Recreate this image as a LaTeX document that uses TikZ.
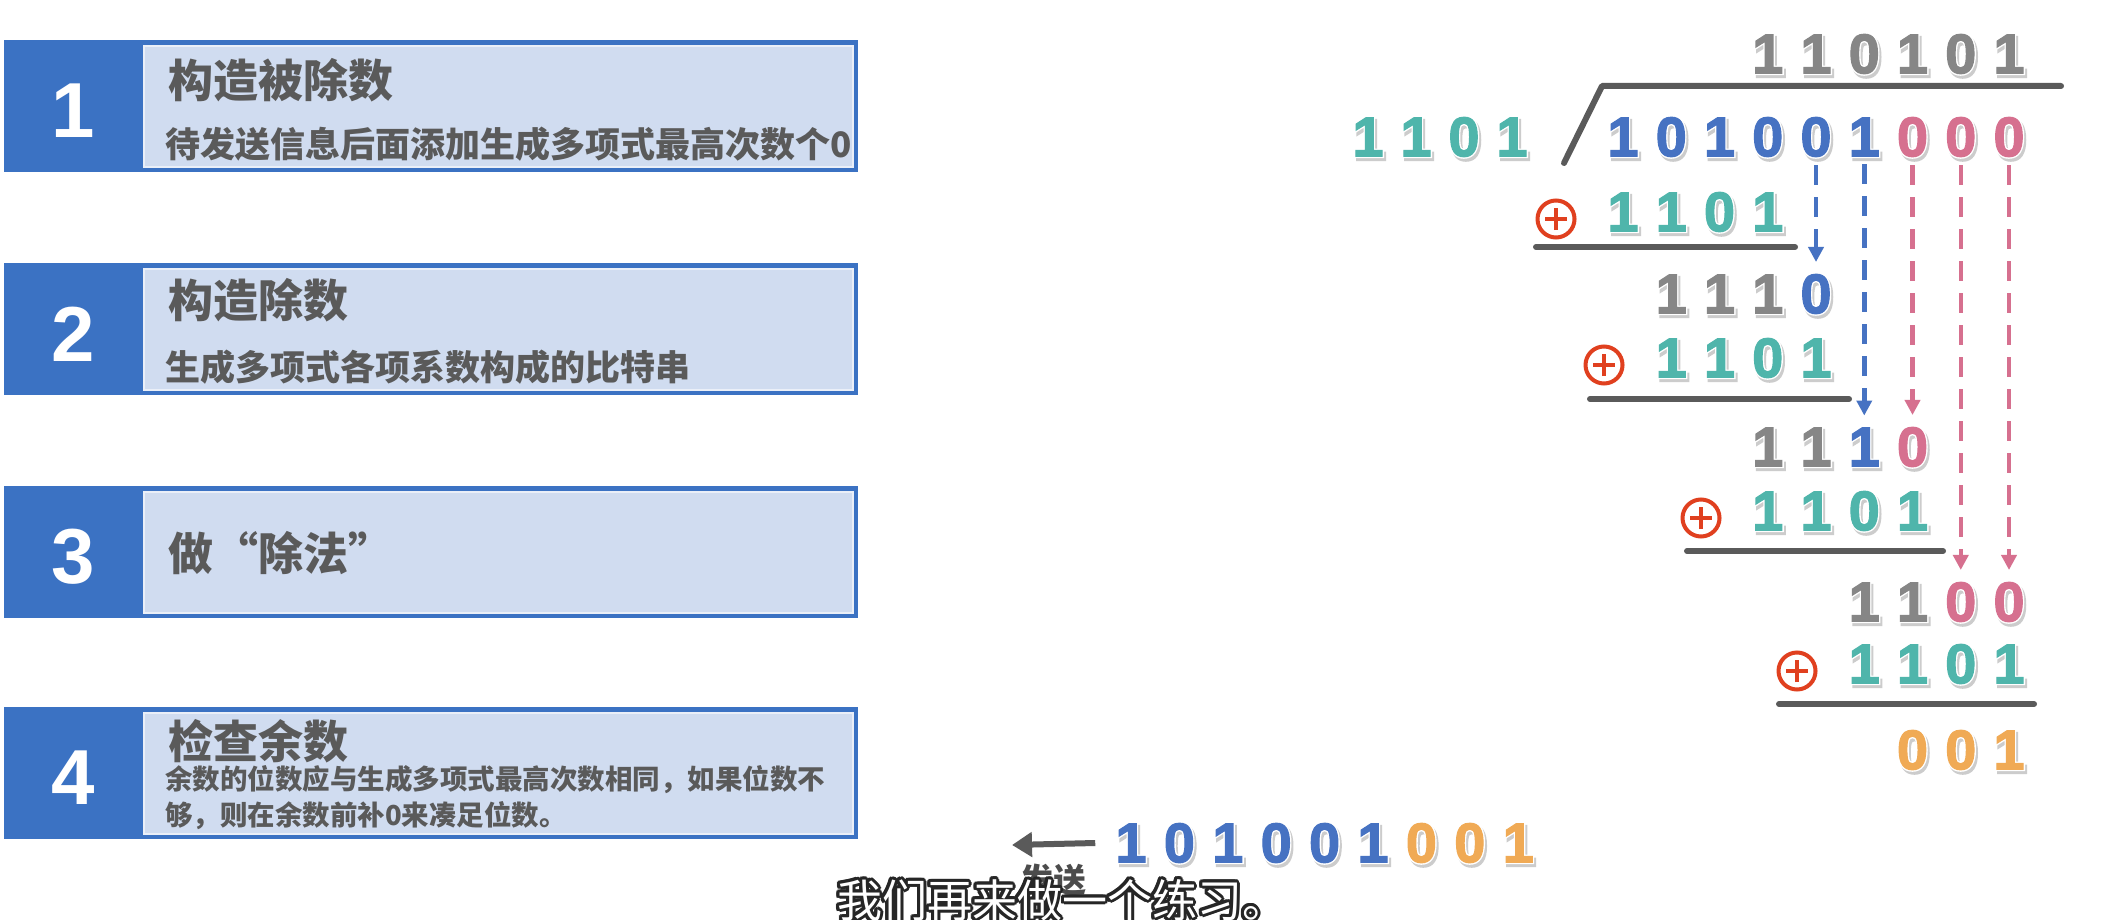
\documentclass[tikz,border=0pt]{standalone}
\usepackage{fontspec}
\usetikzlibrary{arrows.meta}

\newfontfamily\cjkfont{Noto Sans CJK SC}
\newfontfamily\numfont{Liberation Sans Bold}
\newfontfamily\numheavy{Liberation Sans Bold}[FakeBold=2]
\newfontfamily\numrim{Liberation Sans Bold}[FakeBold=7]

\definecolor{stepblue}{HTML}{3B72C3}
\definecolor{panel}{HTML}{D0DCF0}
\definecolor{inktext}{HTML}{5A5A5A}
\definecolor{bitgray}{HTML}{868686}
\definecolor{bitteal}{HTML}{4FB5AB}
\definecolor{bitblue}{HTML}{4672C2}
\definecolor{bitpink}{HTML}{D6708F}
\definecolor{bitorange}{HTML}{F0AA55}
\definecolor{xorred}{HTML}{E0401F}
\definecolor{bargray}{HTML}{5A5A5A}

\tikzset{
  stepnum/.style={inner sep=0pt, text=white, font=\numfont\fontsize{78}{80}\selectfont},
  steptitle/.style={anchor=west, inner sep=0pt, text=inktext, font=\cjkfont\bfseries\fontsize{45}{50}\selectfont},
  stepnote/.style={anchor=west, inner sep=0pt, text=inktext, font=\cjkfont\bfseries\fontsize{35}{40}\selectfont},
  stepsmall/.style={anchor=west, inner sep=0pt, align=left, text=inktext, font=\cjkfont\bfseries\fontsize{27.5}{36}\selectfont},
  bitface/.style={inner sep=0pt, font=\numheavy\fontsize{56}{60}\selectfont},
  bitrim/.style={inner sep=0pt, text=white, font=\numrim\fontsize{56}{60}\selectfont},
  bitshade/.style={inner sep=0pt, text=black!20, font=\numrim\fontsize{56}{60}\selectfont},
  xorsign/.style={circle, draw=xorred, line width=4pt, minimum size=37pt, inner sep=0pt,
    path picture={\draw[xorred, line width=3.6pt]
      ([xshift=-11pt]path picture bounding box.center) -- ([xshift=11pt]path picture bounding box.center)
      ([yshift=-11pt]path picture bounding box.center) -- ([yshift=11pt]path picture bounding box.center);}},
  rule/.style={bargray, line width=6pt, line cap=round, line join=round},
  dropline/.style={line width=4.5pt, dash pattern=on 20pt off 12pt, -{Triangle[length=15pt,width=15pt]}},
  sendarrow/.style={bargray, line width=6pt, -{Triangle[length=20pt,width=24pt]}},
  sendlabel/.style={inner sep=0pt, text=black!70, font=\cjkfont\bfseries\fontsize{33}{36}\selectfont},
  captionrim/.style={inner sep=0pt, text=black!85, font=\cjkfont\fontsize{45}{48}\selectfont},
  captionface/.style={inner sep=0pt, text=white, font=\cjkfont\fontsize{45}{48}\selectfont},
}

% one digit of the long division: shadow, white rim, coloured face
\newcommand\putbit[5]{%
  \node[bitshade] (sh-#1) at (#2+2,#3+3) {#5};
  \node[bitrim] (rim-#1) at (#2,#3) {#5};
  \node[bitface, text=#4] (#1) at (#2,#3) {#5};
}

\begin{document}
\begin{tikzpicture}[x=1pt, y=-1pt]
\useasboundingbox (0,0) rectangle (2116,920);
\fill[white] (0,0) rectangle (2116,920);

% ---- the four steps ----
\foreach \i/\t in {1/40, 2/263, 3/486, 4/707} {
  \fill[stepblue] (4,\t) rectangle (858,\t+132);
  \fill[panel] (144,\t+6) rectangle (853,\t+127);
  \draw[white!55!panel, line width=1.2pt] (144,\t+6) rectangle (853,\t+127);
  \node[stepnum] (num\i) at (73,\t+71) {\i};
}
\node[steptitle] (title1) at (168,80) {构造被除数};
\node[stepnote] (note1) at (165,144) {待发送信息后面添加生成多项式最高次数个0};
\node[steptitle] (title2) at (168,300) {构造除数};
\node[stepnote] (note2) at (165,367) {生成多项式各项系数构成的比特串};
\node[steptitle] (title3) at (168,553) {做“除法”};
\node[steptitle] (title4) at (168,741) {检查余数};
\node[stepsmall] (note4) at (165,798) {余数的位数应与生成多项式最高次数相同，如果位数不\\够，则在余数前补0来凑足位数。};

% ---- long division ----
% quotient
\foreach \k/\b in {3/1,4/1,5/0,6/1,7/0,8/1}
  \putbit{q\k}{1623+48.25*\k}{54}{bitgray}{\b};
% divisor
\foreach \k/\b in {0/1,1/1,2/0,3/1}
  \putbit{v\k}{1368+48*\k}{137}{bitteal}{\b};
% division bracket
\draw[rule] (1564,163) -- (1602,86) -- (2061,86);
% dividend
\foreach \k/\b/\c in {0/1/bitblue,1/0/bitblue,2/1/bitblue,3/0/bitblue,4/0/bitblue,5/1/bitblue,6/0/bitpink,7/0/bitpink,8/0/bitpink}
  \putbit{d\k}{1623+48.25*\k}{137}{\c}{\b};

% step 1
\node[xorsign] (xor1) at (1556,219) {};
\foreach \k/\b in {0/1,1/1,2/0,3/1}
  \putbit{m1c\k}{1623+48.25*\k}{212}{bitteal}{\b};
\draw[rule] (1536,247) -- (1795,247);
\foreach \k/\b/\c in {1/1/bitgray,2/1/bitgray,3/1/bitgray,4/0/bitblue}
  \putbit{p1c\k}{1623+48.25*\k}{294}{\c}{\b};

% step 2
\node[xorsign] (xor2) at (1604,365) {};
\foreach \k/\b in {1/1,2/1,3/0,4/1}
  \putbit{m2c\k}{1623+48.25*\k}{358}{bitteal}{\b};
\draw[rule] (1590,399) -- (1849,399);
\foreach \k/\b/\c in {3/1/bitgray,4/1/bitgray,5/1/bitblue,6/0/bitpink}
  \putbit{p2c\k}{1623+48.25*\k}{447}{\c}{\b};

% step 3
\node[xorsign] (xor3) at (1701,518) {};
\foreach \k/\b in {3/1,4/1,5/0,6/1}
  \putbit{m3c\k}{1623+48.25*\k}{511}{bitteal}{\b};
\draw[rule] (1687,551) -- (1943,551);
\foreach \k/\b/\c in {5/1/bitgray,6/1/bitgray,7/0/bitpink,8/0/bitpink}
  \putbit{p3c\k}{1623+48.25*\k}{602}{\c}{\b};

% step 4
\node[xorsign] (xor4) at (1797,671) {};
\foreach \k/\b in {5/1,6/1,7/0,8/1}
  \putbit{m4c\k}{1623+48.25*\k}{664}{bitteal}{\b};
\draw[rule] (1779,704) -- (2034,704);
\foreach \k/\b in {6/0,7/0,8/1}
  \putbit{rem\k}{1623+48.25*\k}{750}{bitorange}{\b};

% bits brought down
\draw[dropline, bitblue] ([yshift=-8pt]d4.south) -- ([yshift=12pt]p1c4.north);
\draw[dropline, bitblue] ([yshift=-8pt]d5.south) -- ([yshift=12pt]p2c5.north);
\draw[dropline, bitpink] ([yshift=-8pt]d6.south) -- ([yshift=12pt]p2c6.north);
\draw[dropline, bitpink] ([yshift=-8pt]d7.south) -- ([yshift=12pt]p3c7.north);
\draw[dropline, bitpink] ([yshift=-8pt]d8.south) -- ([yshift=12pt]p3c8.north);

% ---- frame to be sent ----
\foreach \k/\b/\c in {0/1/bitblue,1/0/bitblue,2/1/bitblue,3/0/bitblue,4/0/bitblue,5/1/bitblue,6/0/bitorange,7/0/bitorange,8/1/bitorange}
  \putbit{s\k}{1131+48.4*\k}{843}{\c}{\b};
\coordinate (sendtip) at (1012,845);
\draw[sendarrow] ([xshift=-20pt]s0.west) -- (sendtip);
\node[sendlabel] (sendlbl) at (1053,880) {发送};

% ---- caption ----
\foreach \a [count=\n] in {0,22.5,...,337.5}
  \node[captionrim] (caprim\n) at ([shift={(\a:3pt)}]1062,900) {我们再来做一个练习。};
\node[captionface] (caption) at (1062,900) {我们再来做一个练习。};
\end{tikzpicture}
\end{document}
